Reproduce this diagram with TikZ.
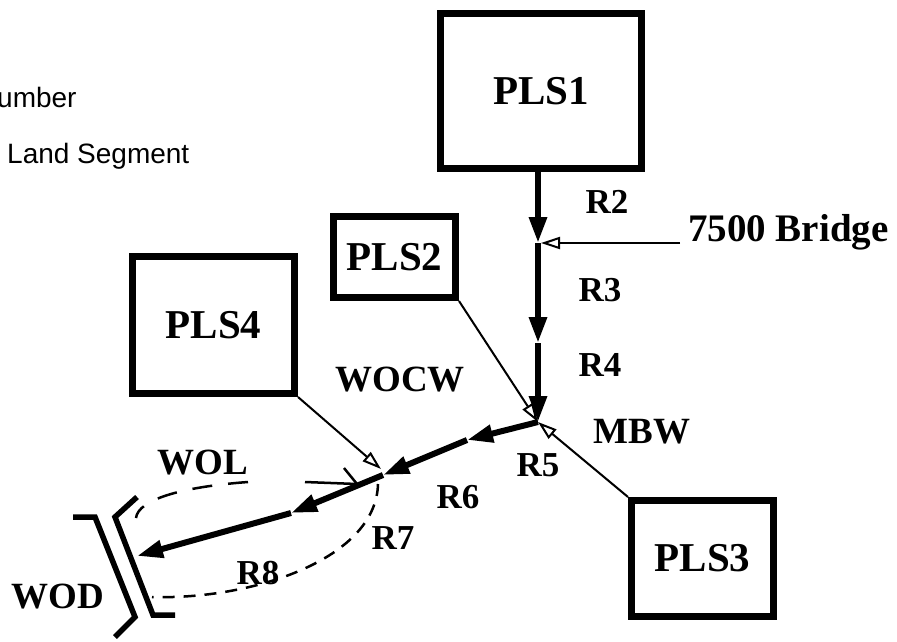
\documentclass[tikz,border=0pt]{standalone}
\usepackage{fontspec}
\setmainfont{Liberation Serif}
\setsansfont{Liberation Sans}
\usetikzlibrary{positioning, arrows.meta}

\begin{document}
\begin{tikzpicture}[
  x=1pt, y=-1pt,
  plsbox/.style={rectangle, draw=black, line width=7pt, inner sep=0pt,
                 font=\fontsize{41}{44}\selectfont\bfseries},
  rlabel/.style={font=\fontsize{35}{38}\selectfont\bfseries, inner sep=0pt},
  wlabel/.style={font=\fontsize{37}{40}\selectfont\bfseries, inner sep=0pt},
  keytext/.style={font=\sffamily\fontsize{28}{30}\selectfont, inner sep=0pt,
                  anchor=base west},
  reach/.style={line width=6pt, -{Triangle[length=26pt, width=17pt]}},
  inflow/.style={line width=2pt, -{Triangle[open, length=19pt, width=12pt]}},
  seep/.style={line width=2.5pt, dash pattern=on 20pt off 16pt},
  wall/.style={line width=5.5pt}
]
\useasboundingbox (0,0) rectangle (897,641);
% Key text, cut off at the left edge
\node[keytext] (keyone) at (-3,107) {umber};
\node[keytext] (keytwo) at (7,163) {Land Segment};
% Land segment boxes
\node[plsbox, minimum width=201pt, minimum height=155pt] (pls1) at (541,91) {PLS1};
\node[plsbox, minimum width=122pt, minimum height=81pt] (pls2) at (394.5,257) {PLS2};
\node[plsbox, minimum width=162pt, minimum height=137pt] (pls4) at (213.5,325) {PLS4};
\node[plsbox, minimum width=142pt, minimum height=116pt] (pls3) at (702.5,558.5) {PLS3};
% Points on the reaches
\coordinate (bridge) at (538,243);
\coordinate (r3end) at (538,343);
\coordinate (jn) at (538,422);
\coordinate (bend5) at (467,440);
\coordinate (jk) at (383,475);
\coordinate (bend6) at (291,513);
\coordinate (wodin) at (137,556);
% Main reaches
\draw[reach] (jn |- pls1.south) -- (bridge);
\draw[reach] (bridge) -- (r3end);
\draw[reach] (r3end) -- (jn);
\draw[reach] (jn) -- (bend5);
\draw[reach] (bend5) -- (jk);
\draw[reach] (jk) -- (bend6);
\draw[reach] (bend6) -- (wodin);
% Inflows
\node[wlabel, font=\fontsize{39}{42}\selectfont\bfseries, anchor=west] (brlabel)
  at (688,232) {7500 Bridge};
\coordinate (brstart) at (680,243);
\coordinate (brtip) at (541,243);
\draw[inflow] (brstart) -- (brtip);
\draw[inflow] (pls2.south east) -- (jn);
\draw[inflow] (pls3.north west) -- (jn);
\coordinate (k4) at (381,469);
\draw[inflow] (pls4.south east) -- (k4);
% WOL return
\coordinate (wolstart) at (305,482);
\coordinate (wolin) at (357,484);
\coordinate (wolbarb) at (344,468);
\coordinate (woltop) at (248,482);
\coordinate (wodtop) at (136,518);
\draw[line width=2.5pt] (wolstart) -- (wolin);
\draw[line width=2.5pt] (wolbarb) -- (wolin);
\draw[seep] (woltop) .. controls (180,487) and (138,500) .. (wodtop);
% R7 / R8 seepage
\coordinate (r7top) at (378,484);
\coordinate (wodlow) at (152,597);
\draw[seep, dash pattern=on 12pt off 9pt] (r7top) .. controls (376,560) and (250,600) .. (wodlow);
% WOD walls
\draw[wall] (137,497) -- (115,517) -- (153,615) -- (175,615);
\draw[wall] (73,517) -- (95,517) -- (135,617) -- (115,637);
% Labels
\node[rlabel] (r2) at (607,202) {R2};
\node[rlabel] (r3) at (600,290) {R3};
\node[rlabel] (r4) at (600,365) {R4};
\node[rlabel] (r5) at (538,465) {R5};
\node[rlabel] (r6) at (458,497) {R6};
\node[rlabel] (r7) at (393,538) {R7};
\node[rlabel] (r8) at (258,573) {R8};
\node[wlabel] (mbw) at (642,432) {MBW};
\node[wlabel] (wocw) at (400,380) {WOCW};
\node[wlabel] (wol) at (203,463) {WOL};
\node[wlabel] (wod) at (58,597) {WOD};
\end{tikzpicture}
\end{document}
